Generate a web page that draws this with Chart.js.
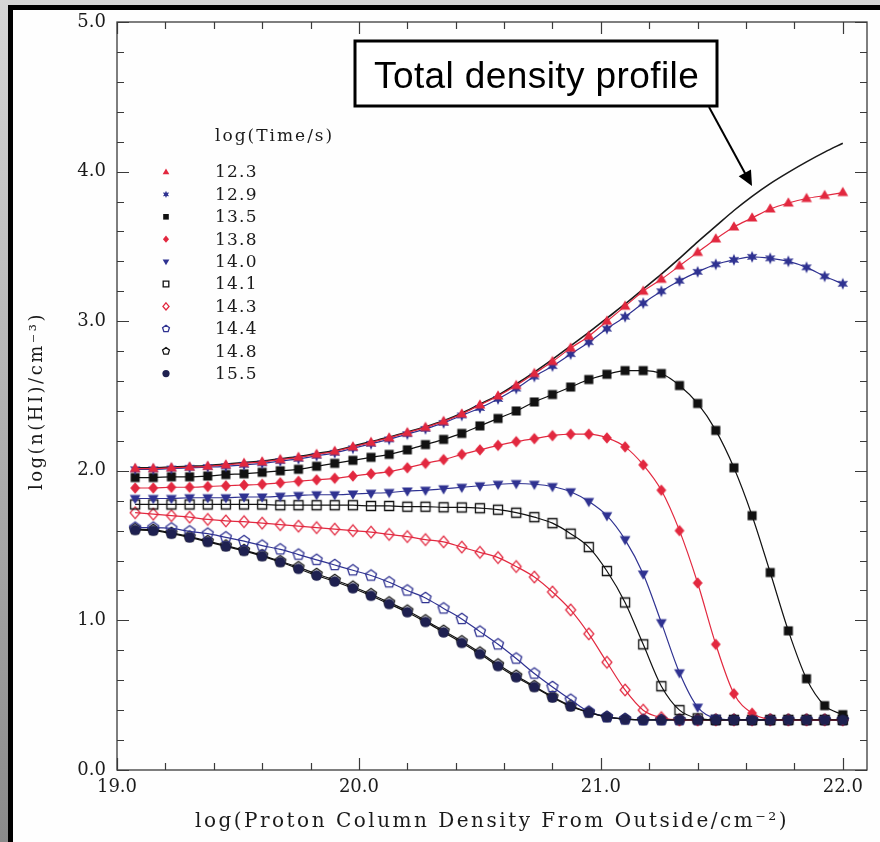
<!DOCTYPE html>
<html><head><meta charset="utf-8">
<script src="https://cdn.jsdelivr.net/npm/chart.js@4/dist/chart.umd.min.js"></script>
<style>
html,body{margin:0;padding:0;width:880px;height:842px;overflow:hidden;}
body{background:linear-gradient(180deg,#d6d6d6 0%,#a9a9a9 60%,#8a8a8a 100%);}
#frame{position:absolute;left:8px;top:5px;width:872px;height:837px;background:#fefefe;border-left:5px solid #000;border-top:5px solid #000;box-sizing:border-box;}
#c{position:absolute;left:0;top:0;}
</style></head><body>
<div id="frame"></div>
<canvas id="c" width="880" height="842"></canvas>
<script>
// ---- data ----
const xValues = [19.075,19.15,19.225,19.3,19.375,19.45,19.525,19.6,19.675,19.75,
  19.825,19.9,19.975,20.05,20.125,20.2,20.275,20.35,20.425,20.5,
  20.575,20.65,20.725,20.8,20.875,20.95,21.025,21.1,21.175,21.25,
  21.325,21.4,21.475,21.55,21.625,21.7,21.775,21.85,21.925,22.0];
const timeLabels = ['12.3','12.9','13.5','13.8','14.0','14.1','14.3','14.4','14.8','15.5'];
const legendTitle = 'log(Time/s)';
const annotationText = 'Total density profile';
const xTitle = 'log(Proton Column Density From Outside/cm\u207B\u00B2)';
const yTitle = 'log(n(HI)/cm\u207B\u00B3)';
const xTickValues = [19, 20, 21, 22];
const yTickValues = [0, 1, 2, 3, 4, 5];

const totalProfile = [2.02,2.02,2.025,2.03,2.035,2.045,2.055,2.065,2.08,2.095,
  2.115,2.135,2.165,2.195,2.225,2.26,2.295,2.335,2.385,2.445,
  2.505,2.58,2.66,2.745,2.835,2.925,3.02,3.115,3.215,3.315,
  3.42,3.53,3.635,3.74,3.835,3.92,3.995,4.065,4.13,4.19];
const s123 = [2.015,2.015,2.02,2.025,2.03,2.04,2.05,2.06,2.075,2.09,
  2.11,2.13,2.16,2.19,2.22,2.255,2.29,2.33,2.38,2.44,
  2.50,2.57,2.65,2.73,2.82,2.90,3.00,3.10,3.20,3.28,
  3.37,3.46,3.55,3.63,3.69,3.75,3.79,3.82,3.84,3.86];
const s129 = [2.01,2.01,2.015,2.02,2.025,2.03,2.04,2.05,2.065,2.08,
  2.10,2.12,2.15,2.18,2.21,2.245,2.28,2.32,2.37,2.42,
  2.48,2.55,2.63,2.70,2.78,2.86,2.95,3.03,3.12,3.20,
  3.27,3.33,3.38,3.41,3.43,3.42,3.40,3.36,3.30,3.25];
const s135 = [1.955,1.955,1.96,1.96,1.965,1.975,1.98,1.99,2.00,2.01,
  2.03,2.05,2.07,2.09,2.11,2.14,2.175,2.21,2.25,2.30,
  2.35,2.40,2.46,2.51,2.56,2.61,2.645,2.67,2.67,2.65,
  2.57,2.45,2.27,2.02,1.70,1.32,0.93,0.61,0.43,0.37];
const s138 = [1.885,1.885,1.89,1.89,1.895,1.90,1.905,1.91,1.92,1.93,
  1.94,1.95,1.965,1.98,1.995,2.02,2.05,2.075,2.11,2.14,
  2.17,2.195,2.215,2.235,2.245,2.245,2.22,2.16,2.04,1.87,
  1.60,1.25,0.84,0.51,0.38,0.34,0.335,0.335,0.335,0.335];
const s140 = [1.815,1.815,1.815,1.82,1.82,1.82,1.825,1.825,1.83,1.835,
  1.84,1.84,1.845,1.85,1.855,1.865,1.87,1.88,1.89,1.90,
  1.91,1.915,1.91,1.895,1.86,1.795,1.70,1.54,1.31,0.985,
  0.65,0.42,0.345,0.335,0.335,0.335,0.335,0.335,0.335,0.335];
const s141 = [1.775,1.775,1.775,1.775,1.775,1.775,1.775,1.775,1.77,1.77,
  1.77,1.77,1.77,1.765,1.765,1.76,1.76,1.756,1.755,1.75,
  1.74,1.72,1.69,1.65,1.58,1.49,1.33,1.12,0.84,0.56,
  0.40,0.345,0.335,0.335,0.335,0.335,0.335,0.335,0.335,0.335];
const s143 = [1.72,1.71,1.70,1.69,1.675,1.665,1.66,1.65,1.64,1.63,
  1.62,1.61,1.60,1.59,1.575,1.56,1.54,1.525,1.49,1.455,
  1.42,1.36,1.29,1.19,1.07,0.91,0.72,0.535,0.40,0.35,
  0.335,0.335,0.335,0.335,0.335,0.335,0.335,0.335,0.335,0.335];
const s144 = [1.62,1.62,1.615,1.595,1.58,1.555,1.53,1.50,1.475,1.44,
  1.405,1.37,1.335,1.30,1.255,1.20,1.15,1.08,1.01,0.925,
  0.84,0.745,0.645,0.555,0.47,0.39,0.355,0.34,0.335,0.335,
  0.335,0.335,0.335,0.335,0.335,0.335,0.335,0.335,0.335,0.335];
const s148 = [1.61,1.605,1.585,1.56,1.53,1.50,1.47,1.435,1.395,1.355,
  1.31,1.27,1.225,1.175,1.12,1.065,1.00,0.93,0.86,0.785,
  0.705,0.63,0.56,0.49,0.43,0.385,0.355,0.34,0.335,0.335,
  0.335,0.335,0.335,0.335,0.335,0.335,0.335,0.335,0.335,0.335];
const s155 = [1.605,1.60,1.58,1.555,1.525,1.495,1.465,1.43,1.39,1.345,
  1.30,1.26,1.215,1.165,1.11,1.055,0.99,0.92,0.85,0.775,
  0.695,0.62,0.555,0.485,0.425,0.385,0.355,0.34,0.335,0.335,
  0.335,0.335,0.335,0.335,0.335,0.335,0.335,0.335,0.335,0.335];

// ---- styles ----
const RED = '#e2283f', BLUE = '#2f3291', BLACK = '#111111', NAVY = '#1e2050';
const seriesValues = [s123, s129, s135, s138, s140, s141, s143, s144, s148, s155];
const seriesStyles = [
  {color: RED,   kind: 'triangle', filled: true},
  {color: BLUE,  kind: 'star',     filled: true},
  {color: BLACK, kind: 'square',   filled: true},
  {color: RED,   kind: 'diamond',  filled: true},
  {color: BLUE,  kind: 'tridown',  filled: true},
  {color: BLACK, kind: 'square',   filled: false},
  {color: RED,   kind: 'diamond',  filled: false},
  {color: BLUE,  kind: 'pentagon', filled: false},
  {color: BLACK, kind: 'pentagon', filled: false},
  {color: NAVY,  kind: 'circle',   filled: true, line: BLACK}
];

function pathMarker(g, kind, x, y, r) {
  g.beginPath();
  if (kind === 'triangle' || kind === 'tridown') {
    const s = kind === 'triangle' ? 1 : -1;
    g.moveTo(x, y - s * r);
    g.lineTo(x + r * 0.93, y + s * r * 0.6);
    g.lineTo(x - r * 0.93, y + s * r * 0.6);
  } else if (kind === 'square') {
    const h = r * 0.78;
    g.rect(x - h, y - h, 2 * h, 2 * h);
  } else if (kind === 'diamond') {
    g.moveTo(x, y - r); g.lineTo(x + r * 0.85, y); g.lineTo(x, y + r); g.lineTo(x - r * 0.85, y);
  } else if (kind === 'pentagon') {
    for (let i = 0; i < 5; i++) {
      const a = -Math.PI / 2 + i * 2 * Math.PI / 5;
      g.lineTo(x + r * Math.cos(a), y + r * Math.sin(a));
    }
  } else if (kind === 'star') {
    for (let i = 0; i < 12; i++) {
      const a = -Math.PI / 2 + i * Math.PI / 6;
      const rr = i % 2 === 0 ? r : r * 0.5;
      g.lineTo(x + rr * Math.cos(a), y + rr * Math.sin(a));
    }
  } else {
    g.arc(x, y, r, 0, Math.PI * 2);
  }
  g.closePath();
}
function drawMarker(g, st, x, y, r) {
  pathMarker(g, st.kind, x, y, r);
  if (st.filled) { g.fillStyle = st.color; g.fill(); }
  else { g.strokeStyle = st.color; g.lineWidth = 1.3; g.stroke(); }
}
function markerCanvas(st, r) {
  const size = Math.ceil(2 * r + 4);
  const c = document.createElement('canvas');
  c.width = size; c.height = size;
  drawMarker(c.getContext('2d'), st, size / 2, size / 2, r);
  return c;
}

const datasets = seriesValues.map((vals, i) => {
  const st = seriesStyles[i];
  const r = st.kind === 'circle' ? 5.2 : (st.kind === 'star' ? 6 : 5.8);
  return {
    label: timeLabels[i],
    data: xValues.map((x, j) => ({x: x, y: vals[j]})),
    borderColor: st.line || st.color,
    borderWidth: 1.2,
    pointStyle: markerCanvas(st, r),
    pointRadius: 6,
    cubicInterpolationMode: 'monotone',
    fill: false,
    order: i === 9 ? -1 : i
  };
});
datasets.push({
  label: 'Total density profile',
  data: xValues.map((x, j) => ({x: x, y: totalProfile[j]})),
  borderColor: '#1a1a1a',
  borderWidth: 1.6,
  pointRadius: 0,
  cubicInterpolationMode: 'monotone',
  fill: false,
  order: 20
});

const decor = {
  id: 'decor',
  afterDraw(chart) {
    const ctx = chart.ctx, a = chart.chartArea, xs = chart.scales.x, ys = chart.scales.y;
    ctx.save();
    // frame
    ctx.strokeStyle = '#3a3a3a'; ctx.lineWidth = 1.3;
    ctx.strokeRect(a.left, a.top, a.right - a.left, a.bottom - a.top);
    // inward ticks
    ctx.lineWidth = 1.2;
    ctx.beginPath();
    for (let i = 0; i <= 15; i++) {
      const v = 19 + i * 0.2, L = (i % 5 === 0) ? 12 : 7;
      const px = Math.round(xs.getPixelForValue(v)) + 0.5;
      ctx.moveTo(px, a.bottom); ctx.lineTo(px, a.bottom - L);
      ctx.moveTo(px, a.top); ctx.lineTo(px, a.top + L);
    }
    for (let i = 0; i <= 25; i++) {
      const v = i * 0.2, L = (i % 5 === 0) ? 12 : 7;
      const py = Math.round(ys.getPixelForValue(v)) + 0.5;
      ctx.moveTo(a.left, py); ctx.lineTo(a.left + L, py);
      ctx.moveTo(a.right, py); ctx.lineTo(a.right - L, py);
    }
    ctx.stroke();

    // axis titles
    ctx.fillStyle = '#1a1a1a';
    ctx.font = '20px "DejaVu Serif"';
    ctx.letterSpacing = '2.5px';
    ctx.textAlign = 'center'; ctx.textBaseline = 'middle';
    ctx.fillText(xTitle, (a.left + a.right) / 2, 822);
    ctx.save();
    ctx.font = '18px "DejaVu Serif"';
    ctx.letterSpacing = '2.5px';
    ctx.translate(37, 401);
    ctx.rotate(-Math.PI / 2);
    ctx.fillText(yTitle, 0, 0);
    ctx.restore();

    // legend
    ctx.font = '17px "DejaVu Serif"';
    ctx.letterSpacing = '2px';
    ctx.textAlign = 'left';
    ctx.fillText(legendTitle, 215, 137);
    ctx.letterSpacing = '1.2px';
    for (let i = 0; i < timeLabels.length; i++) {
      const y = 172 + i * 22.4;
      drawMarker(ctx, seriesStyles[i], 166, y, 3.6);
      ctx.fillStyle = '#1a1a1a';
      ctx.fillText(timeLabels[i], 215, y + 1);
    }

    // annotation box
    ctx.fillStyle = '#ffffff';
    ctx.fillRect(355, 41, 362, 65);
    ctx.strokeStyle = '#000'; ctx.lineWidth = 3;
    ctx.strokeRect(355, 41, 362, 65);
    ctx.fillStyle = '#000';
    ctx.font = '37px "Liberation Sans"';
    ctx.letterSpacing = '0.4px';
    ctx.textBaseline = 'alphabetic';
    ctx.fillText(annotationText, 374, 88);
    ctx.letterSpacing = '0px';
    // arrow
    const x0 = 709, y0 = 107, x1 = 752, y1 = 186;
    const ang = Math.atan2(y1 - y0, x1 - x0);
    ctx.lineWidth = 2;
    ctx.beginPath();
    ctx.moveTo(x0, y0);
    ctx.lineTo(x1 - 12 * Math.cos(ang), y1 - 12 * Math.sin(ang));
    ctx.stroke();
    ctx.beginPath();
    ctx.moveTo(x1, y1);
    ctx.lineTo(x1 - 15 * Math.cos(ang) + 7 * Math.sin(ang), y1 - 15 * Math.sin(ang) - 7 * Math.cos(ang));
    ctx.lineTo(x1 - 15 * Math.cos(ang) - 7 * Math.sin(ang), y1 - 15 * Math.sin(ang) + 7 * Math.cos(ang));
    ctx.closePath();
    ctx.fill();
    ctx.restore();
  }
};

new Chart(document.getElementById('c'), {
  type: 'line',
  data: {datasets: datasets},
  options: {
    responsive: false,
    animation: false,
    events: [],
    layout: {padding: {left: 0, right: 13, top: 22, bottom: 0}},
    plugins: {legend: {display: false}, tooltip: {enabled: false}},
    scales: {
      x: {
        type: 'linear', min: 19, max: 22.1,
        afterBuildTicks: s => { s.ticks = xTickValues.map(v => ({value: v})); },
        afterFit: s => { s.height = 72; },
        ticks: {callback: v => v.toFixed(1), font: {family: 'DejaVu Serif', size: 18}, color: '#1a1a1a', padding: 7, maxRotation: 0, autoSkip: false},
        grid: {display: false, drawTicks: false},
        border: {display: false}
      },
      y: {
        type: 'linear', min: 0, max: 5,
        afterBuildTicks: s => { s.ticks = yTickValues.map(v => ({value: v})); },
        afterFit: s => { s.width = 117; },
        ticks: {callback: v => v.toFixed(1), font: {family: 'DejaVu Serif', size: 18}, color: '#1a1a1a', padding: 11, autoSkip: false},
        grid: {display: false, drawTicks: false},
        border: {display: false}
      }
    }
  },
  plugins: [decor]
});
</script></body></html>
